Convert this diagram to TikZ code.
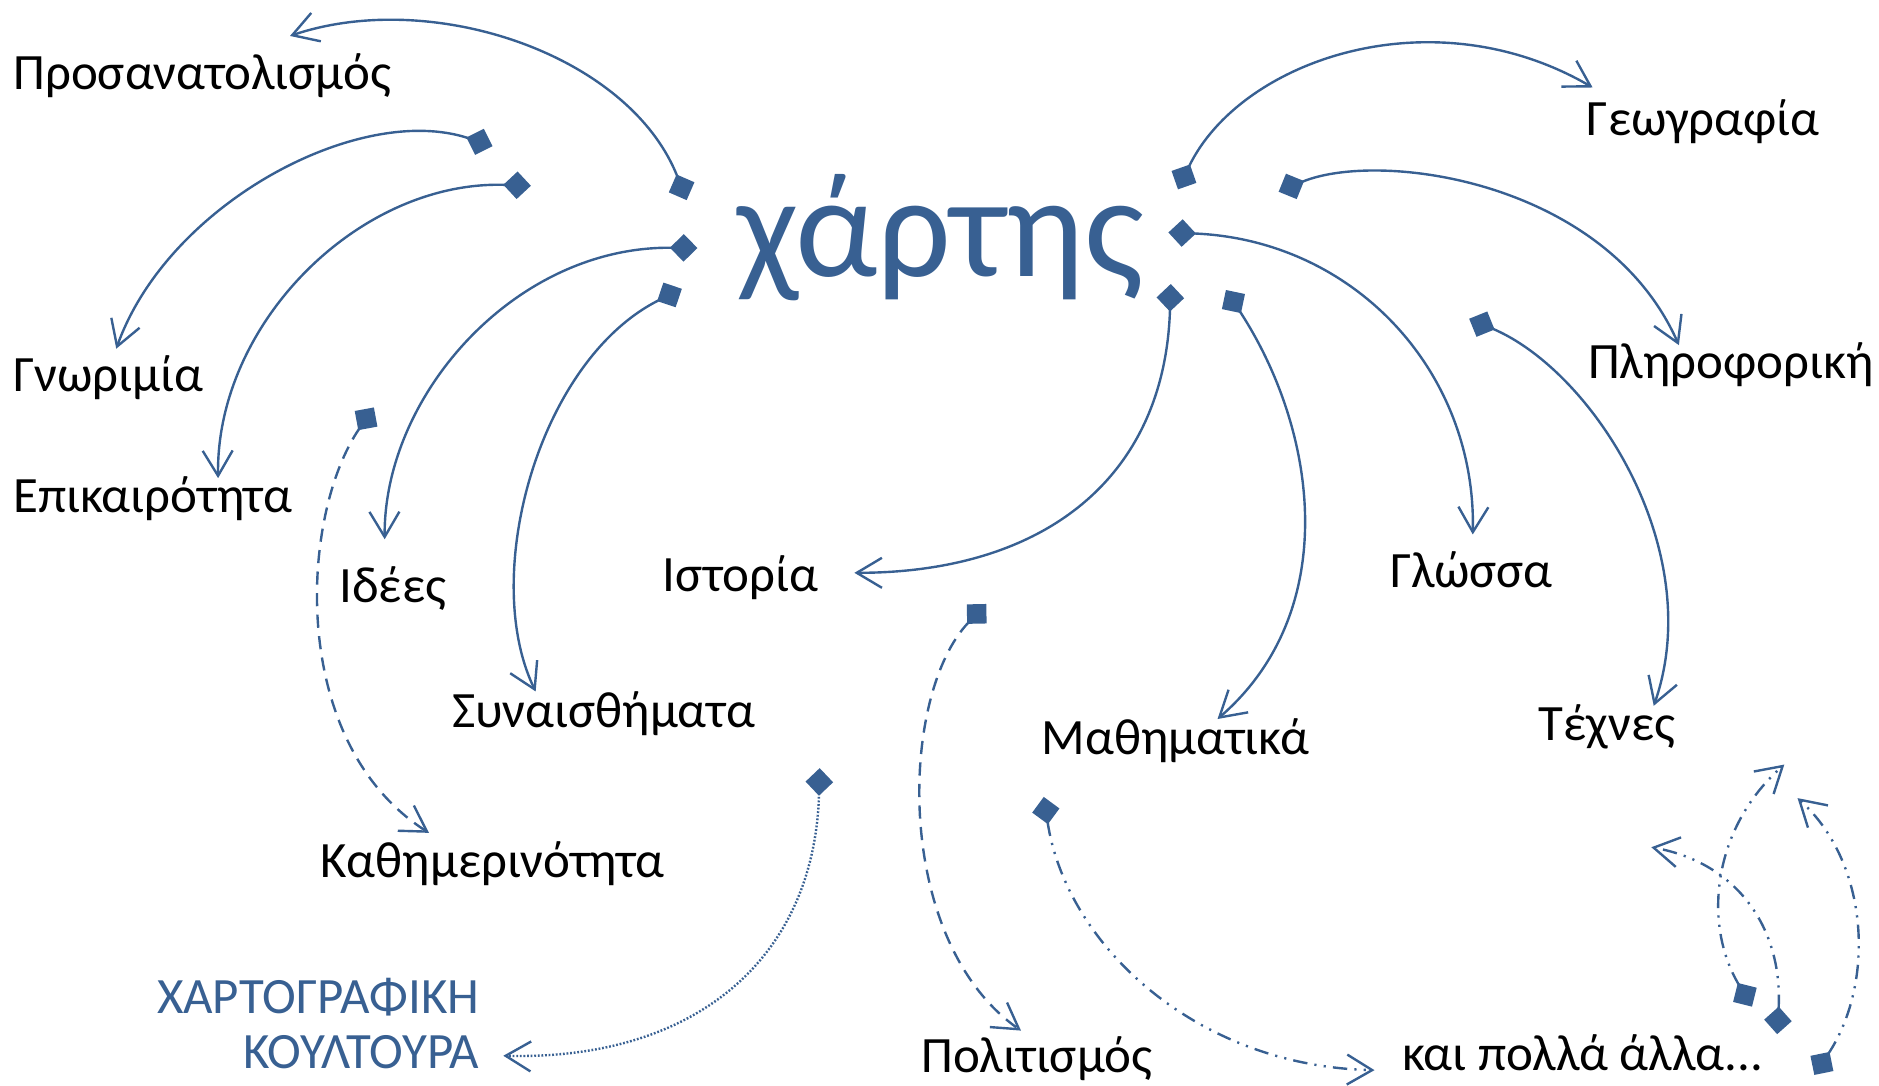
\documentclass[tikz,border=0pt]{standalone}
\usepackage{fontspec}
\setmainfont{Carlito}
\usetikzlibrary{arrows.meta}
\definecolor{mapblue}{RGB}{56,96,146}
\tikzset{
  lbl/.style={anchor=base west, inner sep=0pt, font=\fontsize{42.5}{46}\selectfont, text=black},
  conn/.style={draw=mapblue, line width=2pt,
    {Turned Square[length=23pt,width=23pt,line width=0pt]}-{Straight Barb[length=21pt,width=25pt,line width=2pt]}},
  dashline/.style={dash pattern=on 11pt off 7pt},
  dotline/.style={line width=2pt, dash pattern=on 1.5pt off 1.5pt},
  dddline/.style={dash pattern=on 12pt off 6pt on 1.8pt off 6pt on 1.8pt off 6pt},
}
\begin{document}
\begin{tikzpicture}[x=1pt,y=-1pt]
\useasboundingbox (0,0) rectangle (1568,906);
% central word
\node[anchor=base west, inner sep=0pt, text=mapblue, font=\fontsize{121}{130}\selectfont] (xartis) at (615,231) {χάρτης};
% labels
\node[lbl] (pros) at (11,75) {Προσανατολισμός};
\node[lbl] (geo) at (1324,113) {Γεωγραφία};
\node[lbl] (gnor) at (11,327) {Γνωριμία};
\node[lbl] (plir) at (1325,316) {Πληροφορική};
\node[lbl] (epik) at (11,428) {Επικαιρότητα};
\node[lbl] (idees) at (283,503) {Ιδέες};
\node[lbl] (ist) at (553,494) {Ιστορία};
\node[lbl] (glossa) at (1160,490) {Γλώσσα};
\node[lbl] (synais) at (377,607) {Συναισθήματα};
\node[lbl] (math) at (869,630) {Μαθηματικά};
\node[lbl] (texnes) at (1284,618) {Τέχνες};
\node[lbl] (kath) at (267,732) {Καθημερινότητα};
\node[lbl] (polit) at (769,895) {Πολιτισμός};
\node[lbl] (polla) at (1170,893) {και πολλά άλλα...};
\node[anchor=base east, inner sep=0pt, align=right, text=mapblue, font=\fontsize{42.5}{46}\selectfont] (xk) at (400,892) {ΧΑΡΤΟΓΡΑΦΙΚΗ\\ΚΟΥΛΤΟΥΡΑ};
% connector end points
\coordinate (s1) at (573,167);  \coordinate (e1) at (242,30);
\coordinate (s2) at (983,158);  \coordinate (e2) at (1329,73);
\coordinate (s3) at (1067,160); \coordinate (e3) at (1401,288);
\coordinate (s4) at (975,194);  \coordinate (e4) at (1229,446);
\coordinate (s5) at (1226,266); \coordinate (e5) at (1380,589);
\coordinate (s6) at (1023,242); \coordinate (e6) at (1016,600);
\coordinate (s7) at (977,237);  \coordinate (e7) at (713,478);
\coordinate (s8) at (569,241);  \coordinate (e8) at (447,577);
\coordinate (s9) at (582,207);  \coordinate (e9) at (321,450);
\coordinate (s10) at (411,122); \coordinate (e10) at (97,291);
\coordinate (s11) at (443,155); \coordinate (e11) at (182,399);
\coordinate (s12) at (312,340); \coordinate (e12) at (358,695);
\coordinate (s13) at (684,641); \coordinate (e13) at (420,881);
\coordinate (s14) at (823,504); \coordinate (e14) at (852,860);
\coordinate (s15) at (871,665); \coordinate (e15) at (1147,893);
\coordinate (s16) at (1462,840); \coordinate (e16) at (1489,638);
\coordinate (s17) at (1483,863); \coordinate (e17) at (1378,707);
\coordinate (s18) at (1514,897); \coordinate (e18) at (1500,666);
% connectors
\draw[conn] (s1) .. controls (525,45) and (360,-10) .. (e1);
\draw[conn] (s2) .. controls (1035,50) and (1195,-5) .. (e2);
\draw[conn] (s3) .. controls (1150,125) and (1340,150) .. (e3);
\draw[conn] (s4) .. controls (1130,200) and (1232,310) .. (e4);
\draw[conn] (s5) .. controls (1330,310) and (1425,460) .. (e5);
\draw[conn] (s6) .. controls (1100,360) and (1120,510) .. (e6);
\draw[conn] (s7) .. controls (972,400) and (870,478) .. (e7);
\draw[conn] (s8) .. controls (450,300) and (400,480) .. (e8);
\draw[conn] (s9) .. controls (430,205) and (320,330) .. (e9);
\draw[conn] (s10) .. controls (300,85) and (140,170) .. (e10);
\draw[conn] (s11) .. controls (300,150) and (180,270) .. (e11);
\draw[conn,dashline] (s12) .. controls (250,430) and (240,620) .. (e12);
\draw[conn,dotline] (s13) .. controls (680,800) and (580,885) .. (e13);
\draw[conn,dashline] (s14) .. controls (750,580) and (745,785) .. (e14);
\draw[conn,dddline] (s15) .. controls (890,790) and (1000,890) .. (e15);
\draw[conn,dddline] (s16) .. controls (1420,770) and (1430,690) .. (e16);
\draw[conn,dddline] (s17) .. controls (1488,775) and (1450,720) .. (e17);
\draw[conn,dddline] (s18) .. controls (1565,820) and (1560,720) .. (e18);
\end{tikzpicture}
\end{document}
